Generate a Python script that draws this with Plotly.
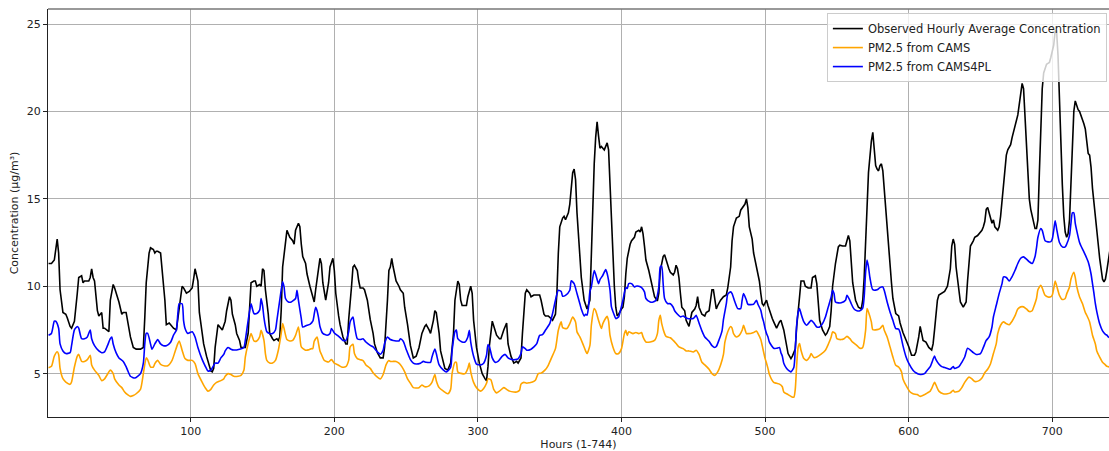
import plotly.graph_objects as go

# (hour, µg/m³)
observed = [
(1,11.3),(3,11.3),(5,11.5),(7,12.7),(8,11.9),(9,9.8),(11,8.5),(13,8.4),(14,8.2),(16,7.7),(17,7.6),(19,8.0),
(21,9.6),(22,10.5),(24,10.6),(25,10.2),(26,10.3),(29,10.3),(30,10.5),(31,11.0),(32,10.5),(33,10.3),(35,8.6),
(36,8.3),(38,8.5),(39,7.6),(40,7.6),(43,7.4),(44,9.2),(46,10.1),(47,9.9),(50,9.1),(52,8.4),(53,8.5),(55,8.5),
(57,7.5),(58,7.1),(60,6.5),(62,6.4),(65,6.4),(67,6.5),(68,8.2),(69,10.2),(71,11.9),(72,12.2),(74,12.1),(75,11.9),
(76,12.0),(77,12.0),(79,11.9),(80,11.1),(82,9.2),(83,7.8),(85,7.9),(86,7.8),(88,7.6),(90,7.5),(91,8.2),(93,9.3),
(94,10.0),(95,9.9),(97,9.6),(99,9.7),(101,9.9),(102,10.4),(103,11.0),(105,10.3),(106,8.5),(108,7.3),(109,6.7),
(111,6.0),(113,5.4),(114,5.15),(115,5.1),(116,5.3),(117,6.5),(119,7.8),(120,7.7),(122,7.5),(124,8.0),(125,8.6),
(127,9.4),(128,9.2),(129,8.4),(131,7.8),(132,7.3),(134,6.9),(135,6.5),(138,6.5),(140,7.3),(141,9.2),(142,10.2),
(144,10.3),(145,10.3),(146,10.0),(148,10.1),(149,10.0),(150,11.0),(151,10.9),(152,9.8),(154,8.4),(155,7.3),
(157,7.0),(158,6.9),(160,7.0),(161,6.9),(162,7.1),(163,8.6),(164,11.1),(166,12.6),(167,13.2),(169,12.8),
(170,12.7),(171,12.6),(172,12.4),(173,13.2),(175,13.6),(176,13.4),(177,12.4),(178,11.7),(180,11.3),(181,10.7),
(183,10.0),(185,9.3),(186,9.1),(187,9.8),(189,11.0),(190,11.6),(191,11.3),(192,10.2),(194,9.2),(195,9.6),
(196,10.2),(197,11.1),(199,11.6),(200,10.9),(201,9.6),(203,8.3),(204,7.8),(206,7.1),(208,6.7),(209,6.7),
(210,8.1),(212,10.0),(213,11.1),(214,11.2),(216,10.9),(217,10.3),(218,9.9),(220,9.9),(221,9.8),(223,9.2),
(225,8.1),(227,7.3),(228,6.7),(230,6.2),(232,5.9),(234,5.9),(235,6.5),(237,9.2),(238,10.9),(239,11.1),
(240,11.6),(241,11.1),(243,10.3),(245,10.0),(246,9.8),(248,9.6),(249,8.8),(251,7.8),(253,6.6),(255,5.9),
(257,6.0),(259,6.5),(261,7.3),(263,7.7),(264,7.8),(266,7.5),(267,7.3),(269,8.05),(270,8.6),(271,8.5),(273,7.3),
(274,6.3),(276,5.6),(277,5.3),(279,5.2),(281,5.6),(283,7.3),(284,9.2),(286,10.3),(287,10.1),(288,9.2),
(289,8.9),(292,8.9),(293,9.4),(295,10.0),(296,9.6),(297,8.05),(299,6.5),(301,5.6),(303,5.0),(305,4.7),
(306,4.6),(307,5.4),(308,6.6),(310,8.0),(311,7.7),(313,7.2),(315,7.0),(316,7.0),(318,7.5),(320,7.9),(321,6.7),
(323,6.0),(325,5.6),(327,5.7),(328,5.6),(330,5.9),(331,7.3),(333,9.6),(334,9.8),(336,9.6),(337,9.4),(339,9.5),
(341,9.5),(343,9.5),(344,9.2),(346,8.4),(347,8.3),(349,8.3),(351,8.15),(352,8.05),(354,8.4),(355,9.6),
(356,11.9),(357,13.4),(359,13.9),(360,14.0),(361,13.8),(363,14.2),(364,14.7),(365,15.5),(366,16.5),(367,16.7),
(368,16.1),(369,14.2),(371,12.1),(372,10.5),(374,9.2),(375,9.0),(376,8.7),(378,9.2),(379,11.7),(380,14.9),
(381,17.0),(382,18.5),(383,19.4),(384,18.6),(385,17.9),(386,18.0),(387,17.9),(388,17.8),(389,18.0),(390,18.2),
(391,17.8),(392,15.7),(393,14.3),(394,12.0),(395,10.0),(396,8.8),(397,8.3),(398,8.4),(399,8.6),(400,8.7),
(401,8.8),(402,9.4),(403,10.7),(404,11.6),(406,12.4),(407,12.6),(409,12.8),(410,13.1),(412,13.2),(413,13.1),
(414,13.4),(415,13.0),(416,12.3),(417,11.5),(419,10.9),(420,10.5),(421,10.25),(422,9.8),(423,9.4),(425,9.16),
(426,9.6),(427,10.9),(429,11.7),(430,11.8),(431,11.5),(433,11.0),(434,10.8),(436,10.65),(437,10.8),(438,11.2),
(439,11.0),(440,10.5),(441,9.6),(442,8.8),(444,8.6),(445,8.05),(447,7.7),(448,8.2),(449,8.5),(451,8.7),
(452,8.9),(453,9.4),(454,8.8),(456,8.4),(458,8.3),(459,8.5),(461,8.6),(462,9.2),(463,9.8),(464,9.8),(465,9.2),
(466,8.7),(467,8.9),(469,9.2),(471,9.4),(473,9.5),(474,9.9),(476,11.1),(477,12.6),(478,13.4),(480,13.9),
(482,14.0),(483,14.35),(485,14.6),(486,14.7),(487,15.0),(488,14.5),(489,13.4),(490,13.0),(491,12.7),(492,11.9),
(494,11.1),(495,10.5),(496,10.3),(497,9.6),(498,9.0),(499,8.9),(500,9.1),(501,9.2),(502,8.9),(503,8.6),
(505,8.15),(506,7.96),(508,7.6),(510,7.96),(511,8.05),(513,7.5),(515,6.7),(516,6.15),(518,5.86),(519,6.0),
(521,6.4),(522,7.7),(524,9.4),(525,10.3),(527,10.3),(528,10.0),(530,9.9),(532,9.9),(533,10.5),(535,10.6),
(536,10.15),(537,9.2),(538,8.05),(540,7.5),(542,7.2),(543,7.3),(545,7.7),(546,8.6),(547,10.0),(549,11.3),
(550,11.9),(551,12.25),(552,12.35),(554,12.3),(556,12.3),(557,12.6),(558,12.9),(559,12.6),(560,11.4),
(561,10.2),(563,9.2),(565,8.8),(567,8.7),(568,9.2),(569,10.5),(570,13.0),(571,14.5),(572,16.5),(573,17.6),
(574,18.3),(575,18.8),(576,17.6),(577,16.9),(578,16.7),(579,16.6),(580,16.9),(581,17.0),(582,16.6),(583,15.5),
(584,14.2),(585,13.0),(586,12.0),(587,11.2),(588,10.2),(589,9.3),(591,8.44),(593,8.3),(594,7.9),(596,7.35),
(597,7.1),(598,6.95),(600,6.55),(602,6.05),(604,6.05),(605,6.24),(607,7.1),(608,7.7),(609,7.3),(610,6.9),
(612,6.8),(614,6.5),(616,6.35),(617,6.7),(618,7.5),(620,9.2),(621,9.5),(623,9.6),(625,9.7),(626,9.85),
(627,10.0),(629,11.0),(630,12.3),(631,12.7),(632,12.4),(633,11.1),(635,9.6),(636,9.1),(638,8.8),(640,9.1),
(641,10.3),(643,12.3),(645,12.6),(646,12.8),(648,12.9),(650,13.1),(651,13.2),(652,13.4),(653,13.7),(654,14.4),
(655,14.5),(657,13.9),(658,13.6),(659,13.8),(660,13.4),(662,13.2),(663,13.4),(664,14.0),(665,14.9),(666,16.0),
(668,17.5),(669,17.8),(671,18.1),(672,18.5),(673,18.8),(674,19.2),(675,19.5),(676,19.8),(677,20.4),(678,21.2),
(679,21.6),(680,21.3),(681,19.5),(682,17.8),(683,16.0),(684,15.0),(685,14.4),(686,14.0),(687,13.5),(688,13.3),
(689,13.3),(690,13.8),(691,16.5),(692,19.5),(693,21.3),(694,22.2),(695,22.5),(696,22.7),(697,22.75),(698,22.8),
(699,23.1),(700,23.4),(701,23.8),(702,24.6),(703,24.6),(704,23.2),(705,20.5),(706,18.0),(707,15.8),(708,14.0),
(709,13.1),(710,12.8),(711,13.0),(712,13.8),(713,16.0),(714,18.5),(715,20.0),(716,20.6),(717,20.3),(718,20.1),
(719,20.0),(720,19.8),(721,19.55),(722,19.3),(723,19.0),(724,18.3),(725,17.6),(726,17.5),(727,16.8),(728,15.6),
(729,14.7),(730,13.8),(731,13.0),(732,12.4),(733,11.6),(734,10.9),(735,10.4),(736,10.25),(737,10.4),(738,10.9),
(739,11.5),(740,12.0),
]

cams = [
(1,5.34),(3,5.42),(5,6.0),(7,6.25),(8,6.1),(9,5.3),(11,4.71),(13,4.52),(16,4.39),(17,4.52),(19,5.38),(21,6.0),
(22,6.1),(23,5.9),(24,5.7),(26,5.7),(28,5.8),(30,6.05),(31,5.5),(33,5.2),(36,4.9),(38,4.6),(40,4.7),
(43,5.1),(44,5.2),(46,5.0),(47,4.7),(50,4.35),(52,4.2),(54,3.95),(56,3.8),(58,3.7),(60,3.75),(62,3.85),
(65,4.1),(67,5.0),(69,5.9),(70,5.8),(72,5.38),(74,5.38),(75,5.57),(77,5.76),(79,5.53),(82,5.44),(84,5.45),
(87,5.76),(89,6.24),(91,6.72),(92,6.87),(94,6.34),(96,5.86),(98,5.76),(101,5.76),(103,5.57),(105,5.0),(108,4.5),
(110,4.2),(112,4.0),(114,4.1),(116,4.35),(118,4.5),(121,4.6),(123,4.7),(124,4.85),(126,5.0),(128,4.95),
(130,4.85),(133,4.85),(135,4.9),(137,5.19),(138,5.95),(140,6.72),(142,7.29),(143,7.1),(144,6.87),(146,6.87),
(148,7.1),(149,7.48),(151,6.9),(152,6.15),(153,5.76),(155,5.61),(157,5.61),(159,5.76),(161,6.34),(163,7.29),
(164,7.86),(165,7.58),(167,6.95),(169,6.87),(171,6.9),(173,7.19),(175,7.67),(176,7.1),(177,6.53),(180,6.34),
(182,6.36),(184,6.43),(185,6.43),(186,6.85),(188,7.1),(189,6.72),(190,6.3),(191,6.11),(193,5.76),(196,5.67),
(198,5.8),(200,5.6),(203,5.48),(205,5.38),(208,5.4),(210,5.76),(211,6.53),(213,6.68),(214,6.15),(216,5.86),
(218,5.8),(220,5.75),(222,5.5),(225,5.3),(227,5.05),(230,4.8),(232,4.7),(234,4.95),(236,5.5),(238,5.75),
(239,5.7),(241,5.7),(243,5.7),(245,5.6),(247,5.4),(249,5.1),(251,4.7),(253,4.45),(255,4.2),(259,4.2),
(261,4.35),(263,4.25),(266,4.3),(268,4.5),(270,4.95),(271,4.6),(273,4.2),(276,4.0),(279,3.85),(281,4.1),
(282,5.0),(284,5.65),(285,5.65),(286,5.1),(289,5.0),(291,5.0),(293,5.3),(294,5.6),(295,5.1),(297,4.5),
(299,4.2),(302,4.0),(304,4.15),(306,4.45),(307,4.7),(309,4.65),(311,4.1),(313,3.9),(315,4.0),(318,4.2),
(320,4.1),(322,4.0),(325,3.95),(327,3.95),(329,4.05),(330,4.4),(332,4.5),(334,4.45),(336,4.48),(338,4.52),
(340,4.62),(342,5.0),(344,5.03),(347,5.23),(349,5.48),(351,5.86),(354,6.43),(356,7.48),(358,7.96),(359,7.63),
(362,7.58),(364,7.86),(366,8.24),(368,7.96),(369,7.39),(371,7.1),(373,6.72),(375,6.3),(376,6.15),(378,6.62),
(379,7.77),(381,8.72),(382,8.6),(384,8.05),(386,7.58),(387,7.86),(390,8.28),(391,8.0),(392,7.19),(394,6.53),
(396,6.15),(398,6.15),(400,6.43),(402,7.29),(403,7.48),(404,7.19),(405,7.39),(408,7.29),(410,7.35),(412,7.29),
(414,7.35),(415,7.1),(417,6.81),(420,6.81),(423,6.9),(425,7.29),(426,8.05),(427,8.34),(428,7.86),(430,7.29),
(431,7.13),(434,7.05),(436,6.9),(438,6.72),(440,6.53),(443,6.43),(445,6.3),(447,6.3),(450,6.24),(452,6.34),
(454,6.1),(456,5.65),(458,5.5),(461,5.25),(463,5.0),(465,4.9),(467,5.1),(469,5.5),(471,6.1),(472,6.8),
(474,7.4),(476,7.7),(477,7.6),(478,7.29),(480,7.1),(482,7.19),(484,7.48),(485,7.77),(487,7.29),(488,7.29),
(490,7.3),(492,7.35),(494,7.44),(495,7.3),(497,6.95),(498,6.6),(500,5.86),(501,5.6),(502,5.3),(503,4.95),
(506,4.5),(508,4.45),(510,4.4),(512,4.25),(513,3.95),(516,3.8),(518,3.7),(520,3.65),(521,4.1),(522,5.5),
(523,6.5),(524,6.72),(525,6.34),(527,5.86),(529,5.76),(531,5.95),(532,6.15),(534,5.92),(536,5.95),(539,6.11),
(542,6.34),(544,6.68),(546,7.1),(547,7.39),(549,7.29),(550,7.0),(553,6.95),(555,7.0),(557,7.13),(559,7.0),
(561,6.8),(564,6.6),(566,6.45),(568,6.5),(570,7.48),(571,8.72),(572,8.53),(574,7.96),(575,7.52),(578,7.52),
(580,7.58),(582,7.77),(583,7.48),(585,7.1),(587,6.53),(589,5.95),(591,5.48),(593,5.38),(595,5.1),(596,4.7),
(599,4.2),(601,3.95),(603,3.85),(606,3.8),(608,3.7),(611,3.8),(613,3.9),(615,4.0),(616,4.15),(618,4.5),
(619,4.35),(621,4.0),(624,3.85),(627,3.85),(629,3.9),(631,4.05),(632,3.95),(635,4.0),(637,4.2),(639,4.5),
(642,4.8),(644,4.7),(646,4.55),(649,4.6),(651,4.75),(653,5.05),(655,5.25),(657,5.57),(659,6.15),(661,6.72),
(662,7.29),(664,7.77),(666,7.96),(668,7.86),(670,7.8),(672,8.0),(674,8.3),(676,8.7),(678,8.82),(680,8.82),
(682,8.7),(684,8.55),(686,8.6),(687,8.8),(689,9.3),(690,9.8),(692,10.06),(693,9.9),(695,9.48),(697,9.39),
(699,9.4),(700,9.5),(701,9.87),(702,10.3),(703,10.05),(705,9.48),(707,9.24),(709,9.3),(710,9.55),(712,9.96),
(713,10.4),(715,10.8),(716,10.5),(717,10.0),(719,9.39),(721,9.01),(723,8.5),(724,8.34),(726,7.96),(728,7.2),
(730,6.7),(731,6.3),(733,5.95),(735,5.65),(737,5.5),(738,5.42),(740,5.38),
]

cams4pl = [
(1,7.2),(3,7.3),(5,8.0),(6,8.0),(8,7.6),(9,6.7),(11,6.3),(13,6.15),(16,6.2),(17,6.6),(19,7.5),(21,7.7),(22,7.6),
(24,7.0),(26,7.0),(28,7.1),(30,7.5),(31,7.0),(33,6.6),(36,6.3),(38,6.2),(40,6.25),(42,6.6),(44,7.0),(45,7.1),
(46,6.7),(48,6.2),(50,5.9),(53,5.7),(55,5.4),(56,5.2),(58,4.85),(61,4.75),(63,4.85),(65,5.0),(67,5.6),(68,6.7),
(69,7.3),(70,7.3),(72,6.7),(73,6.4),(75,6.7),(77,6.95),(79,6.7),(81,6.6),(83,6.6),(86,6.8),(88,7.2),(90,7.5),
(91,8.4),(92,9.0),(94,9.0),(95,8.05),(96,7.6),(98,7.3),(101,7.4),(103,7.1),(105,6.5),(108,5.8),(110,5.45),
(112,5.15),(114,5.2),(117,5.6),(119,5.6),(121,5.9),(123,6.1),(124,6.3),(126,6.5),(128,6.4),(130,6.35),
(134,6.4),(137,6.5),(138,6.9),(140,8.05),(142,9.0),(143,8.7),(144,8.44),(146,8.44),(148,8.63),(149,9.3),
(150,8.9),(151,8.2),(152,7.7),(153,7.4),(155,7.3),(157,7.3),(159,7.5),(160,8.05),(162,9.2),(164,10.25),
(165,9.96),(166,9.3),(168,9.1),(170,9.1),(173,9.3),(174,9.77),(175,9.2),(177,8.15),(178,7.67),(181,7.77),
(183,7.82),(185,8.0),(186,8.4),(187,8.8),(188,8.6),(189,8.2),(190,7.7),(192,7.3),(195,7.2),(197,7.3),(198,7.58),
(200,7.33),(202,7.2),(204,7.06),(206,6.9),(208,6.9),(210,7.39),(211,7.96),(213,8.24),(214,7.77),(216,7.0),
(218,6.95),(220,7.0),(222,6.81),(225,6.62),(227,6.53),(230,6.24),(232,6.11),(234,6.34),(235,6.72),(237,7.1),
(239,6.95),(241,6.9),(243,6.87),(245,6.87),(246,7.0),(248,6.85),(250,6.4),(253,5.8),(255,5.6),(257,5.55),
(260,5.6),(262,5.7),(264,5.65),(267,5.65),(268,5.95),(270,6.4),(271,6.15),(273,5.5),(276,5.2),(278,5.1),
(281,5.35),(282,6.3),(284,7.4),(285,7.5),(286,7.0),(289,6.81),(291,6.81),(293,7.1),(294,7.48),(295,6.81),
(297,6.0),(299,5.55),(302,5.5),(304,5.6),(306,6.05),(307,6.65),(308,6.55),(310,5.9),(312,5.65),(314,5.7),
(317,6.0),(319,6.1),(321,5.9),(324,5.8),(326,5.8),(328,5.85),(330,6.15),(331,6.53),(333,6.43),(334,6.34),
(337,6.4),(339,6.53),(341,6.72),(343,7.19),(345,7.23),(347,7.48),(350,7.86),(352,8.44),(354,9.2),(356,9.77),
(358,9.7),(359,9.43),(361,9.48),(364,9.77),(365,10.31),(367,10.15),(369,9.58),(371,9.0),(372,8.7),(374,8.3),
(375,8.4),(376,8.34),(377,8.8),(378,9.7),(379,9.96),(381,10.9),(382,10.69),(384,10.15),(385,10.38),(387,10.63),
(389,10.95),(390,10.73),(392,9.77),(393,8.82),(395,8.34),(396,8.15),(398,8.24),(399,8.53),(401,9.2),(403,9.92),
(404,9.87),(405,10.15),(407,10.15),(409,9.96),(410,10.0),(412,10.0),(414,9.92),(416,9.68),(417,9.3),(420,9.1),
(422,9.1),(424,9.2),(426,9.96),(427,11.1),(428,11.15),(429,10.15),(430,9.3),(432,9.01),(434,9.0),(436,8.8),
(437,8.6),(439,8.4),(441,8.25),(443,8.3),(444,8.24),(446,8.15),(450,8.15),(451,8.24),(452,8.34),(454,7.9),
(456,7.45),(458,7.1),(461,6.85),(463,6.6),(465,6.5),(466,6.55),(468,6.95),(470,7.45),(471,8.1),(473,9.0),
(474,9.55),(476,9.68),(477,9.58),(479,9.1),(481,8.72),(483,8.72),(484,9.2),(485,9.58),(487,9.2),(488,8.97),
(492,8.97),(494,9.2),(495,8.97),(497,8.63),(498,8.24),(499,7.96),(500,7.58),(501,7.29),(502,7.1),(503,6.8),
(506,6.45),(508,6.45),(510,6.5),(511,6.2),(512,6.0),(513,5.6),(515,5.3),(517,5.15),(518,5.1),(520,5.35),
(521,6.4),(522,7.8),(523,8.5),(524,8.72),(525,8.44),(527,7.96),(529,7.77),(531,7.96),(532,8.05),(534,7.9),
(535,7.77),(536,7.67),(538,7.67),(540,7.86),(542,8.24),(544,8.82),(546,9.39),(547,9.77),(548,9.58),(549,9.1),
(551,9.05),(553,9.05),(556,9.2),(557,9.48),(559,9.2),(560,9.0),(562,8.7),(564,8.6),(566,8.6),(568,8.75),
(569,9.4),(570,10.8),(571,11.5),(572,11.1),(573,10.5),(575,9.8),(578,9.8),(580,9.92),(582,9.96),(583,9.75),
(585,9.1),(587,8.53),(589,8.05),(591,7.58),(593,7.55),(594,7.35),(596,6.6),(598,6.0),(600,5.6),(603,5.2),
(605,5.05),(608,4.95),(611,5.0),(613,5.2),(615,5.4),(616,5.6),(618,6.0),(619,5.8),(621,5.55),(623,5.4),
(625,5.35),(627,5.3),(629,5.25),(631,5.4),(632,5.3),(635,5.4),(637,5.65),(639,5.95),(641,6.45),(643,6.35),
(645,6.2),(647,6.1),(650,6.15),(652,6.5),(654,6.9),(656,7.1),(658,7.67),(659,8.24),(661,8.91),(663,9.58),
(665,10.15),(666,10.53),(668,10.5),(670,10.3),(672,10.55),(674,10.9),(676,11.3),(678,11.6),(680,11.68),
(682,11.55),(684,11.4),(686,11.3),(688,11.7),(689,12.2),(690,12.8),(692,13.3),(693,13.2),(695,12.6),(697,12.54),
(699,12.55),(700,12.7),(701,13.2),(702,13.75),(703,13.3),(705,12.5),(707,12.25),(709,12.25),(710,12.4),
(712,12.9),(713,13.6),(714,14.2),(715,14.2),(716,13.6),(717,13.2),(719,12.5),(720,12.3),(722,11.97),(724,11.6),
(725,11.4),(727,10.7),(728,10.15),(729,9.6),(730,9.0),(731,8.55),(733,7.85),(735,7.45),(737,7.25),(738,7.2),
(739,7.1),(740,7.05),
]

series_names = ["Observed Hourly Average Concentration", "PM2.5 from CAMS", "PM2.5 from CAMS4PL"]
x_ticks = [100, 200, 300, 400, 500, 600, 700]
y_ticks = [5, 10, 15, 20, 25]

FONT = "DejaVu Sans"
fig = go.Figure()
for data, name, color, shape in [
    (observed, series_names[0], "black", "linear"),
    (cams, series_names[1], "orange", "spline"),
    (cams4pl, series_names[2], "blue", "spline"),
]:
    hrs, vals = zip(*data)
    fig.add_trace(go.Scatter(
        x=list(hrs), y=list(vals), mode="lines", name=name,
        line=dict(color=color, width=1.6, shape=shape, smoothing=0.6 if shape == "spline" else None),
    ))

axis_common = dict(
    showgrid=True, gridcolor="#b0b0b0", gridwidth=1,
    showline=True, linecolor="#222", linewidth=1,
    ticks="outside", ticklen=4, tickcolor="#222", tickwidth=1,
    tickfont=dict(family=FONT, size=11, color="#222"),
    zeroline=False, automargin=False,
)
fig.update_xaxes(range=[0.6, 739.5], tickvals=x_ticks,
                 title=dict(text="Hours (1-744)", font=dict(family=FONT, size=11, color="#222"), standoff=3),
                 **axis_common)
fig.update_yaxes(range=[2.52, 25.86], tickvals=y_ticks,
                 title=dict(text="Concentration (μg/m³)", font=dict(family=FONT, size=11, color="#222"), standoff=5),
                 **axis_common)

fig.add_shape(type="line", xref="paper", yref="paper", x0=0, x1=1, y0=1, y1=1,
              line=dict(color="#777", width=1.5))

fig.update_layout(
    width=1109, height=451,
    margin=dict(l=48, r=0, t=9, b=34, autoexpand=False),
    paper_bgcolor="white", plot_bgcolor="white",
    font=dict(family=FONT, size=11, color="#222"),
    legend=dict(x=0.998, y=0.99, xanchor="right", yanchor="top",
                bgcolor="rgba(255,255,255,0.8)", bordercolor="#cccccc", borderwidth=1,
                font=dict(family=FONT, size=11.5, color="#222"), tracegroupgap=0,
                itemwidth=30),
    showlegend=True,
)

fig.write_html(
    "out.html",
    config={"displayModeBar": False},
    post_script="document.body.style.margin='0';document.body.style.overflow='hidden';",
)
